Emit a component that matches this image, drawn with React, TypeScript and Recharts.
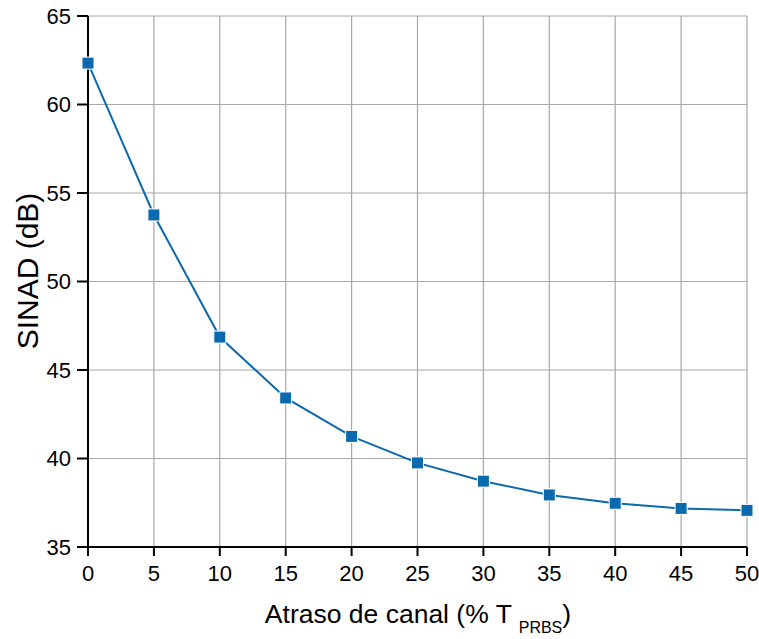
import { LineChart, Line, XAxis, YAxis, CartesianGrid } from "recharts";

const delays = [0, 5, 10, 15, 20, 25, 30, 35, 40, 45, 50];
const sinad = [62.34, 53.76, 46.86, 43.42, 41.25, 39.75, 38.72, 37.94, 37.47, 37.18, 37.07];
const xTicks = [0, 5, 10, 15, 20, 25, 30, 35, 40, 45, 50];
const yTicks = [35, 40, 45, 50, 55, 60, 65];

const data = delays.map((d, i) => ({ delay: d, sinad: sinad[i] }));

const BLUE = "#0a6aad";
const FONT = "'Liberation Sans', Arial, sans-serif";

const SquareDot = (props: any) => {
  const { cx, cy } = props;
  if (cx == null || cy == null) return null;
  return <rect x={cx - 6} y={cy - 6} width={12} height={12} fill={BLUE} stroke="#fff" strokeWidth={1} />;
};

const XLabel = () => (
  <text x={418} y={623} textAnchor="middle" fontFamily={FONT} fontSize={26.5} fill="#000">
    <tspan>Atraso de canal (% T </tspan>
    <tspan fontSize={16} dy={10}>PRBS</tspan>
    <tspan dy={-10}>)</tspan>
  </text>
);

const YLabel = () => (
  <text
    x={0}
    y={0}
    transform="translate(38, 271) rotate(-90)"
    textAnchor="middle"
    fontFamily={FONT}
    fontSize={30}
    fill="#000"
  >
    SINAD (dB)
  </text>
);

export default function App() {
  return (
    <div style={{ position: "absolute", left: 0, top: 0 }}>
      <LineChart
        width={759}
        height={639}
        data={data}
        margin={{ top: 16, right: 12, left: 0, bottom: 0 }}
        style={{ fontFamily: FONT }}
      >
        <CartesianGrid stroke="#a8a8a8" strokeWidth={1.2} vertical horizontal />
        <XAxis
          dataKey="delay"
          type="number"
          domain={[0, 50]}
          ticks={xTicks}
          height={92}
          stroke="#000"
          strokeWidth={2}
          tickSize={9}
          tickMargin={9}
          tick={{ fill: "#000", fontSize: 22, fontFamily: FONT }}
          label={<XLabel />}
        />
        <YAxis
          type="number"
          domain={[35, 65]}
          ticks={yTicks}
          width={88}
          stroke="#000"
          strokeWidth={2}
          tickSize={11}
          tickMargin={6}
          tick={{ fill: "#000", fontSize: 22, fontFamily: FONT }}
          label={<YLabel />}
        />
        <Line
          type="linear"
          dataKey="sinad"
          stroke={BLUE}
          strokeWidth={2}
          dot={<SquareDot />}
          activeDot={false}
          isAnimationActive={false}
        />
      </LineChart>
    </div>
  );
}
